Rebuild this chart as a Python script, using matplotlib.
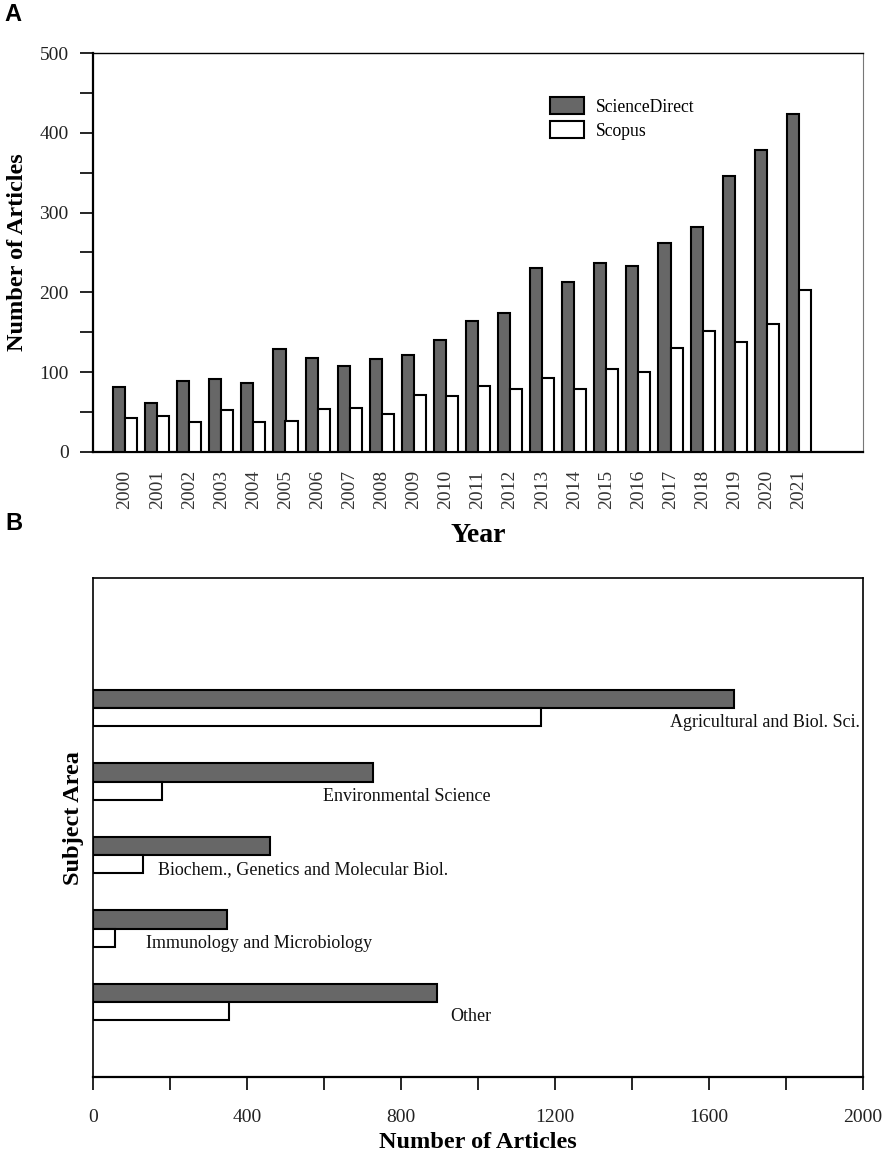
#!/usr/bin/env python3
"""Two-panel bar chart: articles per year (A) and per subject area (B)."""

import numpy as np
import matplotlib.pyplot as plt
from matplotlib.ticker import MultipleLocator

# Panel A data
years = [str(y) for y in range(2000, 2022)]
sciencedirect_year = [82, 61, 89, 92, 86, 129, 118, 108, 116, 122, 140,
                      164, 174, 230, 213, 237, 233, 262, 282, 346, 378, 423]
scopus_year = [43, 45, 38, 53, 38, 39, 54, 55, 47, 72, 70,
               83, 79, 93, 79, 104, 100, 130, 152, 138, 160, 203]

# Panel B data (top to bottom)
subjects = ['Agricultural and Biol. Sci.', 'Environmental Science',
            'Biochem., Genetics and Molecular Biol.',
            'Immunology and Microbiology', 'Other']
sciencedirect_subject = [1665, 726, 461, 348, 894]
scopus_subject = [1163, 179, 131, 56, 352]
# where each subject label sits (x in data units, left aligned)
label_x = [1500, 597, 170, 138, 929]

DARK = '#676767'
SERIF = 'Liberation Serif'

plt.rcParams['font.family'] = SERIF

fig = plt.figure(figsize=(8.86, 11.53), dpi=100)

# ---------------- Panel A ----------------
ax1 = fig.add_axes([93 / 886, 1 - 452 / 1153, 770 / 886, 399 / 1153])
x = np.arange(len(years))
w = 0.375
ax1.bar(x - w / 2, sciencedirect_year, width=w, color=DARK,
        edgecolor='black', linewidth=1.5, label='ScienceDirect', zorder=3)
ax1.bar(x + w / 2, scopus_year, width=w, color='white',
        edgecolor='black', linewidth=1.5, label='Scopus', zorder=3)

ax1.set_xlim(-1, 23)
ax1.set_ylim(0, 500)
ax1.set_xticks(x)
ax1.set_xticklabels(years, rotation=90, fontsize=14, color='#333333')
ax1.tick_params(axis='x', length=0, pad=13)
ax1.yaxis.set_major_locator(MultipleLocator(100))
ax1.yaxis.set_minor_locator(MultipleLocator(50))
ax1.tick_params(axis='y', which='both', direction='out', length=9.5,
                width=1.2, labelsize=14, pad=8, labelcolor='#222222')

for side in ['left', 'bottom']:
    ax1.spines[side].set_linewidth(1.6)
ax1.spines['top'].set_linewidth(1.0)
ax1.spines['right'].set_linewidth(0.8)
ax1.spines['right'].set_color('#777777')

ax1.set_ylabel('Number of Articles', fontsize=17.5, fontweight='bold')
ax1.yaxis.set_label_coords(-0.085, 0.5)
ax1.set_xlabel('Year', fontsize=20, fontweight='bold')
ax1.xaxis.set_label_coords(0.5, -0.178)

ax1.legend(loc='upper left', bbox_to_anchor=(0.5935, 0.89), frameon=False,
           fontsize=12.7, handlelength=1.93, handleheight=1.14,
           labelspacing=0.3, handletextpad=0.68, borderpad=0,
           borderaxespad=0)

# ---------------- Panel B ----------------
ax2 = fig.add_axes([93 / 886, 1 - 1077 / 1153, 770 / 886, 499 / 1153])
ypos = np.arange(len(subjects))[::-1].astype(float)
h = 0.25
ax2.barh(ypos + h / 2, sciencedirect_subject, height=h, color=DARK,
         edgecolor='black', linewidth=1.5, zorder=3)
ax2.barh(ypos - h / 2, scopus_subject, height=h, color='white',
         edgecolor='black', linewidth=1.5, zorder=3)

for name, lx, yy in zip(subjects, label_x, ypos):
    ax2.text(lx, yy - 0.2, name, fontsize=13, ha='left', va='center',
             color='#111111')

ax2.set_xlim(0, 2000)
ax2.set_ylim(-1.02, 5.77)
ax2.set_yticks([])
ax2.xaxis.set_major_locator(MultipleLocator(400))
ax2.xaxis.set_minor_locator(MultipleLocator(200))
ax2.tick_params(axis='x', which='both', direction='out', length=9,
                width=1.2, labelsize=14, pad=14, labelcolor='#222222')
for s in ax2.spines.values():
    s.set_linewidth(1.2)
ax2.spines['bottom'].set_linewidth(1.6)

ax2.set_xlabel('Number of Articles', fontsize=17.5, fontweight='bold')
ax2.xaxis.set_label_coords(0.5, -0.11)
ax2.set_ylabel('Subject Area', fontsize=17.5, fontweight='bold')
ax2.yaxis.set_label_coords(-0.012, 0.519)

# panel letters
fig.text(4 / 886, 1 - 3 / 1153, 'A', fontsize=17, fontweight='bold',
         family='Liberation Sans', va='top', ha='left')
fig.text(5 / 886, 1 - 512 / 1153, 'B', fontsize=17, fontweight='bold',
         family='Liberation Sans', va='top', ha='left')

fig.savefig('out.png', dpi=100)
